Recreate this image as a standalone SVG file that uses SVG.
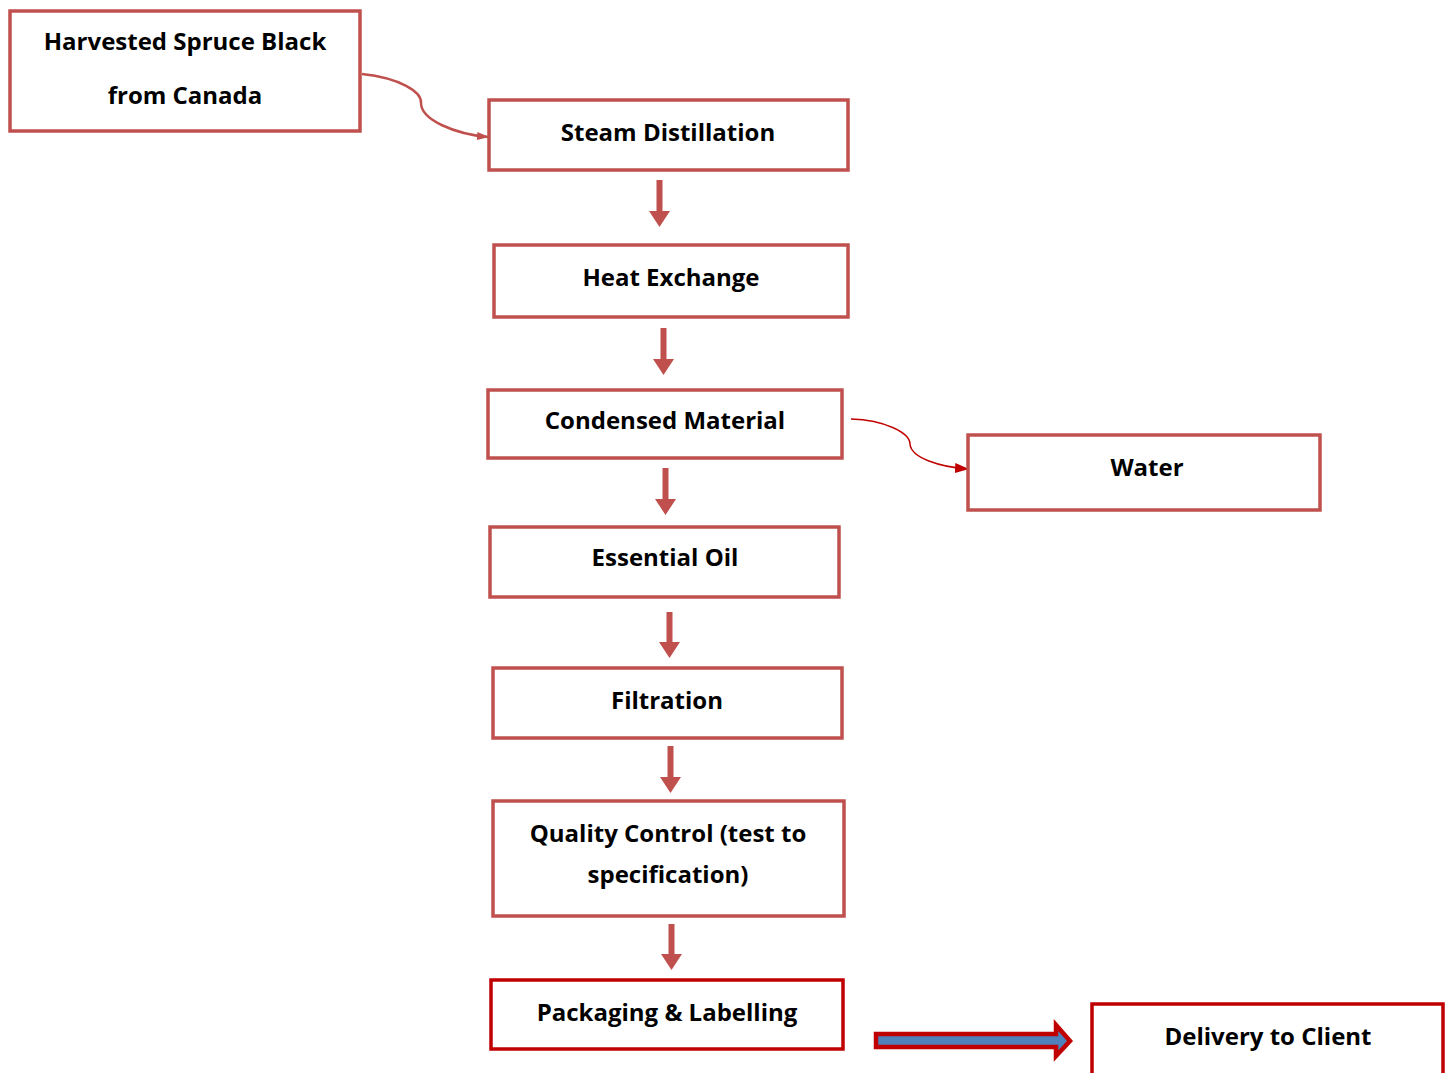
<svg xmlns="http://www.w3.org/2000/svg" width="1447" height="1073" viewBox="0 0 1447 1073">
<style>
.box{fill:#fff;stroke:#C0504D;stroke-width:3.5}
.box2{fill:#fff;stroke:#C00000;stroke-width:3.5}
.t{font-family:"Open Sans","Liberation Sans",sans-serif;font-weight:bold;font-size:24px;fill:#000;text-anchor:middle}
.dn{fill:#C0504D}
</style>
<defs>
<marker id="ah1" markerWidth="12" markerHeight="10" refX="11" refY="5" orient="auto" markerUnits="userSpaceOnUse"><path d="M0,1 L12,5 L0,9 Z" fill="#C0504D"/></marker>
<marker id="ah2" markerWidth="14" markerHeight="12" refX="13" refY="6" orient="auto" markerUnits="userSpaceOnUse"><path d="M0,1 L14,6 L0,11 Z" fill="#C00000"/></marker>
</defs>
<g id="connectors">
<path d="M362,74 C400,78 422,92 421,103 C421,120 455,134 488,137" fill="none" stroke="#C0504D" stroke-width="2.5" marker-end="url(#ah1)"/>
<path d="M851,419 C885,420 910,433 910,444 C911,458 940,467 968,469" fill="none" stroke="#C00000" stroke-width="1.5" marker-end="url(#ah2)"/>
<path class="dn" d="M656.5,180 h6 v31 h7.5 l-10.5,16 l-10.5,-16 h7.5 Z"/>
<path class="dn" d="M660.5,328 h6 v31 h7.5 l-10.5,16 l-10.5,-16 h7.5 Z"/>
<path class="dn" d="M662.5,468 h6 v31 h7.5 l-10.5,16 l-10.5,-16 h7.5 Z"/>
<path class="dn" d="M666.5,612 h6 v30 h7.5 l-10.5,16 l-10.5,-16 h7.5 Z"/>
<path class="dn" d="M667.5,746 h6 v31 h7.5 l-10.5,16 l-10.5,-16 h7.5 Z"/>
<path class="dn" d="M668.5,924 h6 v30 h7.5 l-10.5,16 l-10.5,-16 h7.5 Z"/>
<path d="M876,1034 H1056 V1025 L1070,1041 L1056,1056 V1047 H876 Z" fill="#4F81BD" stroke="#C00000" stroke-width="4.5" stroke-linejoin="miter"/>
</g>
<g id="n1"><rect class="box" x="10" y="11" width="350" height="120" stroke-width="4.5"/><text class="t" x="185" y="50">Harvested Spruce Black</text><text class="t" x="185" y="104">from Canada</text></g>
<g id="n2"><rect class="box" x="489" y="100" width="359" height="70"/><text class="t" x="668" y="141">Steam Distillation</text></g>
<g id="n3"><rect class="box" x="494" y="245" width="354" height="72"/><text class="t" x="671" y="286">Heat Exchange</text></g>
<g id="n4"><rect class="box" x="488" y="390" width="354" height="68"/><text class="t" x="665" y="429">Condensed Material</text></g>
<g id="n5"><rect class="box" x="968" y="435" width="352" height="75"/><text class="t" x="1147" y="476">Water</text></g>
<g id="n6"><rect class="box" x="490" y="527" width="349" height="70"/><text class="t" x="665" y="566">Essential Oil</text></g>
<g id="n7"><rect class="box" x="493" y="668" width="349" height="70"/><text class="t" x="667" y="709">Filtration</text></g>
<g id="n8"><rect class="box" x="493" y="801" width="351" height="115"/><text class="t" x="668" y="842">Quality Control (test to</text><text class="t" x="668" y="883">specification)</text></g>
<g id="n9"><rect class="box2" x="491" y="980" width="352" height="69"/><text class="t" x="667" y="1021">Packaging &amp; Labelling</text></g>
<g id="n10"><rect class="box2" x="1092" y="1004" width="351" height="90"/><text class="t" x="1268" y="1045">Delivery to Client</text></g>
</svg>
